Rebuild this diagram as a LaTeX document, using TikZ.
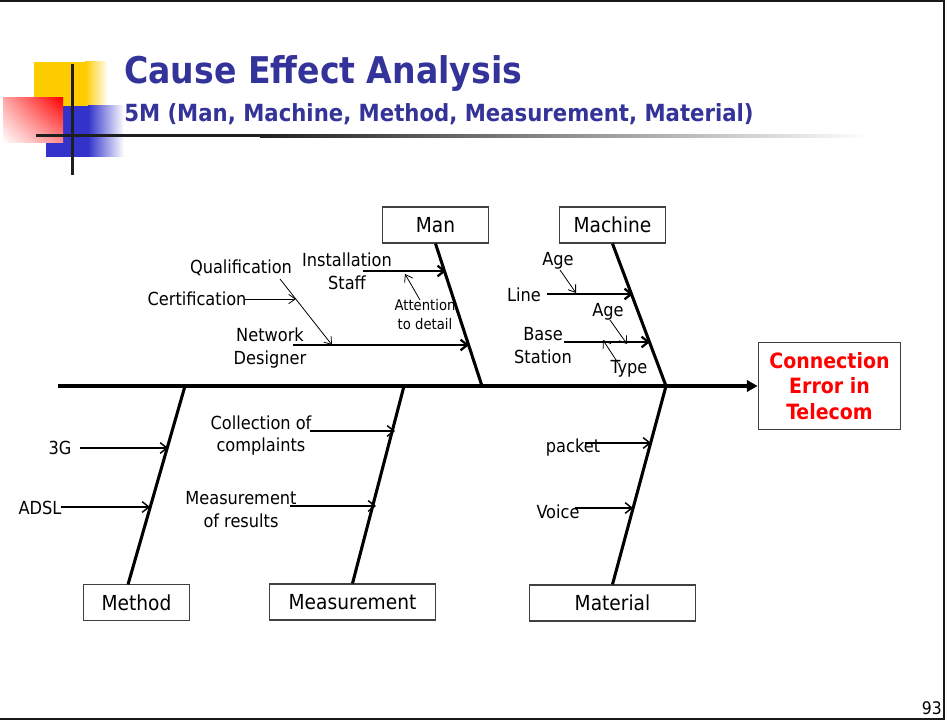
\documentclass[tikz,border=0pt]{standalone}
\usepackage{fontspec}
\setmainfont{DejaVu Sans Condensed}
\usetikzlibrary{arrows.meta,shadings}
\definecolor{titleblue}{HTML}{333399}
\definecolor{logoyellow}{HTML}{FFCC00}
\definecolor{logoblue}{HTML}{3333CC}
\definecolor{effred}{HTML}{FF0000}
\begin{document}
\begin{tikzpicture}[x=0.75pt,y=-0.75pt,
  catbox/.style={draw=black!75, line width=0.9pt, minimum height=27pt, inner sep=0pt, font=\fontsize{15.5}{18}\selectfont},
  lbl/.style={font=\fontsize{13.5}{17}\selectfont, align=center, inner sep=0pt},
  smalllbl/.style={font=\fontsize{11}{14}\selectfont, align=center, inner sep=0pt},
  bone/.style={line width=2.3pt},
  spine/.style={line width=3pt, -{Triangle[length=8pt,width=8.5pt]}},
  thickarr/.style={line width=1.7pt, -{Straight Barb[length=5pt,width=8pt]}},
  medarr/.style={line width=1.1pt, -{Straight Barb[length=5pt,width=8pt]}},
  thinarr/.style={line width=0.6pt, -{Straight Barb[length=5pt,width=7pt]}},
]
\useasboundingbox (0,0) rectangle (947,720);
% slide frame
\draw[line width=1.5pt, black!90] (0,1.5) -- (944,1.5) -- (944,718.5) -- (0,718.5);
% logo
\fill[logoyellow] (34,62) rectangle (85,106);
\shade[left color=logoyellow, right color=white] (85,62) rectangle (108,106);
\fill[logoblue] (46,106) rectangle (88,157);
\shade[left color=logoblue, right color=white] (88,106) rectangle (124,157);
\shade[upper right=red, upper left=red!35, lower left=white, lower right=red!45] (3,98) rectangle (63,143);
\fill[black!88] (36,134.5) rectangle (260,137.5);
\shade[left color=black!88, right color=white] (260,134.5) rectangle (870,137.5);
\fill[black!88] (70.5,64) rectangle (73.5,175);
% titles
\node[anchor=base west, inner sep=0pt, text=titleblue, font=\bfseries\fontsize{27.6}{32}\selectfont] (title) at (124,84) {Cause Effect Analysis};
\node[anchor=base west, inner sep=0pt, text=titleblue, font=\bfseries\fontsize{17.7}{21}\selectfont] (subtitle) at (124,122) {5M (Man, Machine, Method, Measurement, Material)};
% effect
\node[draw=black!75, line width=0.9pt, minimum width=107pt, minimum height=65pt, align=center, inner sep=0pt, text=effred, font=\bfseries\fontsize{15.8}{19}\selectfont] (effect) at (829.5,386) {Connection\\Error in\\Telecom};
% category boxes
\node[catbox, minimum width=80pt] (man) at (435.5,225) {Man};
\node[catbox, minimum width=80pt] (machine) at (612.5,225) {Machine};
\node[catbox, minimum width=80pt] (method) at (136.5,602.5) {Method};
\node[catbox, minimum width=124pt] (measure) at (352.5,602) {Measurement};
\node[catbox, minimum width=125pt] (material) at (612.5,603) {Material};
% spine and bones
\coordinate (tail) at (58,386);
\coordinate (jman) at (482,386);
\coordinate (jmach) at (666,386);
\coordinate (jmeth) at (185,386);
\coordinate (jmeas) at (404,386);
\coordinate (jmat) at (666,386);
\coordinate (bmeth) at (128,584.5);
\draw[spine] (tail) -- (effect.west);
\draw[bone] (man.south) -- (jman);
\draw[bone] (machine.south) -- (jmach);
\draw[bone] (bmeth) -- (jmeth);
\draw[bone] (measure.north) -- (jmeas);
\draw[bone] (material.north) -- (jmat);
% Man causes
\node[lbl] (inst) at (347,271) {Installation\\Staff};
\node[lbl] (qual) at (241,268) {Qualification};
\node[lbl] (cert) at (197,299) {Certification};
\node[lbl] (netd) at (270,348) {Network\\Designer};
\node[smalllbl] (attn) at (425,314.5) {Attention\\to detail};
\coordinate (instS) at (363,271);
\coordinate (instE) at (446,271);
\coordinate (netS) at (293,345);
\coordinate (netE) at (469,345);
\coordinate (qualS) at (280,279);
\coordinate (qualE) at (332,345);
\coordinate (certS) at (245,299);
\coordinate (certE) at (296,299);
\coordinate (attnS) at (420,300);
\coordinate (attnE) at (405,274);
\draw[thickarr] (instS) -- (instE);
\draw[thickarr] (netS) -- (netE);
\draw[thinarr] (qualS) -- (qualE);
\draw[thinarr] (certS) -- (certE);
\draw[thinarr] (attnS) -- (attnE);
% Machine causes
\node[lbl] (age1) at (558,261) {Age};
\node[lbl] (line) at (524,295) {Line};
\node[lbl] (age2) at (608,312) {Age};
\node[lbl] (base) at (543,345.5) {Base\\Station};
\node[lbl] (type) at (629,369) {Type};
\coordinate (lineS) at (547,294);
\coordinate (lineE) at (633,294);
\coordinate (baseS) at (564,342);
\coordinate (baseE) at (650,342);
\coordinate (age1S) at (560,270);
\coordinate (age1E) at (576,293);
\coordinate (age2S) at (610,320);
\coordinate (age2E) at (627,344);
\coordinate (typeS) at (618,363);
\coordinate (typeE) at (603,340);
\draw[thickarr] (lineS) -- (lineE);
\draw[thickarr] (baseS) -- (baseE);
\draw[thinarr] (age1S) -- (age1E);
\draw[thinarr] (age2S) -- (age2E);
\draw[thinarr] (typeS) -- (typeE);
% Method causes
\node[lbl] (g3) at (60,448) {3G};
\node[lbl] (adsl) at (40,508) {ADSL};
\coordinate (g3S) at (80,448);
\coordinate (g3E) at (168,448);
\coordinate (adslS) at (61,507);
\coordinate (adslE) at (150,507);
\draw[medarr] (g3S) -- (g3E);
\draw[medarr] (adslS) -- (adslE);
% Measurement causes
\node[lbl] (coll) at (261,435.5) {Collection of\\complaints};
\node[lbl] (mres) at (241,509.5) {Measurement\\of results};
\coordinate (collS) at (310,431);
\coordinate (collE) at (395,431);
\coordinate (mresS) at (290,506);
\coordinate (mresE) at (376,506);
\draw[medarr] (collS) -- (collE);
\draw[medarr] (mresS) -- (mresE);
% Material causes
\node[lbl] (packet) at (573,448) {packet};
\node[lbl] (voice) at (558,512) {Voice};
\coordinate (packS) at (585,443);
\coordinate (packE) at (651,443);
\coordinate (voiceS) at (575,508);
\coordinate (voiceE) at (633,508);
\draw[medarr] (packS) -- (packE);
\draw[medarr] (voiceS) -- (voiceE);
% page number
\node[anchor=base east, inner sep=0pt, font=\fontsize{13}{15}\selectfont] (pnum) at (942,714) {93};
\end{tikzpicture}
\end{document}
